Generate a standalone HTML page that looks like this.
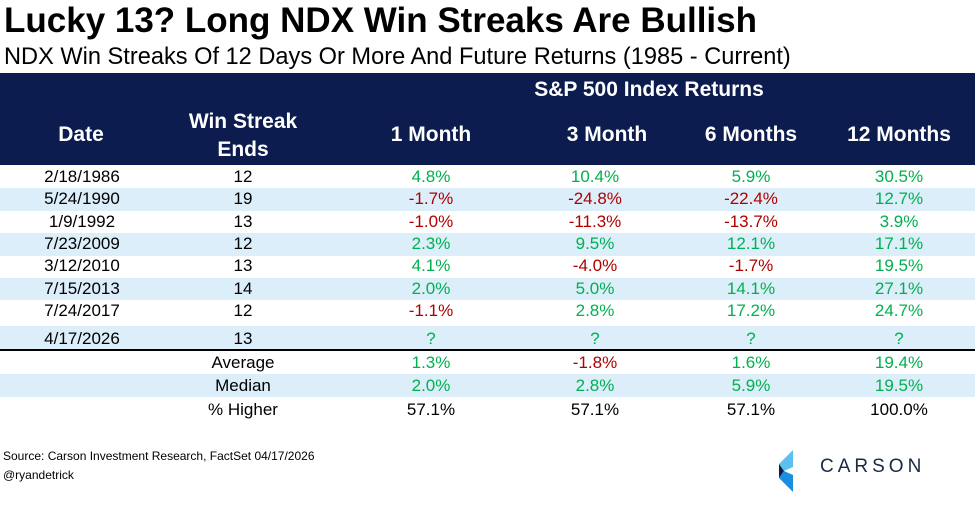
<!DOCTYPE html>
<html><head><style>
body{margin:0;width:975px;height:506px;background:#fff;font-family:"Liberation Sans",sans-serif;position:relative;overflow:hidden}
.a{position:absolute;white-space:nowrap}
.c{position:absolute;transform:translateX(-50%);white-space:nowrap;font-size:17px}
.h{color:#fff;font-weight:bold;font-size:21px}
.g{color:#00b050}.r{color:#b00000}
.band{position:absolute;left:0;width:975px;background:#dbeefa}
</style></head><body>
<div class="a" style="left:4px;top:1px;font-size:35px;font-weight:bold;color:#000">Lucky 13? Long NDX Win Streaks Are Bullish</div>
<div class="a" style="left:4px;top:44px;font-size:23.6px;color:#000">NDX Win Streaks Of 12 Days Or More And Future Returns (1985 - Current)</div>
<div class="a" style="left:0;top:73px;width:975px;height:92px;background:#0c1c4e"></div>
<div class="c h" style="left:649px;top:78px">S&amp;P 500 Index Returns</div>
<div class="c h" style="left:81px;top:123px">Date</div>
<div class="c h" style="left:243px;top:108px;text-align:center;line-height:28px">Win Streak<br>Ends</div>
<div class="c h" style="left:431px;top:123px">1 Month</div>
<div class="c h" style="left:607px;top:123px">3 Month</div>
<div class="c h" style="left:751px;top:123px">6 Months</div>
<div class="c h" style="left:899px;top:123px">12 Months</div>
<div class="band" style="top:188px;height:23px"></div>
<div class="band" style="top:233px;height:23px"></div>
<div class="band" style="top:278px;height:22px"></div>
<div class="band" style="top:326px;height:23px"></div>
<div class="band" style="top:374px;height:23px"></div>
<div class="a" style="left:0;top:349px;width:975px;height:2px;background:#000"></div>
<div id="rows"></div>
<div class="a" style="left:3px;top:449px;font-size:12px">Source: Carson Investment Research, FactSet 04/17/2026</div>
<div class="a" style="left:3px;top:468px;font-size:12px">@ryandetrick</div>
<svg class="a" style="left:779px;top:450px" width="28" height="42" viewBox="0 0 28 42"><polygon points="0,14 14,0 14,17 5,21" fill="#5bc0f0"/><polygon points="0,14 5,21 0,28" fill="#0c1c4e"/><polygon points="0,28 5,21 14,25 14,42" fill="#1a8fe0"/></svg>
<div class="a" style="left:820px;top:456px;font-size:19px;letter-spacing:4px;color:#1a2a44">CARSON</div>
<script>
var d=[["2/18/1986","12","4.8%","10.4%","5.9%","30.5%",177],["5/24/1990","19","-1.7%","-24.8%","-22.4%","12.7%",199],["1/9/1992","13","-1.0%","-11.3%","-13.7%","3.9%",222],["7/23/2009","12","2.3%","9.5%","12.1%","17.1%",244],["3/12/2010","13","4.1%","-4.0%","-1.7%","19.5%",266],["7/15/2013","14","2.0%","5.0%","14.1%","27.1%",289],["7/24/2017","12","-1.1%","2.8%","17.2%","24.7%",311],["4/17/2026","13","?","?","?","?",339],["","Average","1.3%","-1.8%","1.6%","19.4%",363],["","Median","2.0%","2.8%","5.9%","19.5%",386],["","% Higher","57.1%","57.1%","57.1%","100.0%",410]];
var xs=[82,243,431,595,751,899],h="";
d.forEach(function(r,i){for(var j=0;j<6;j++){var cl="";if(j>1){cl=i==10?"":(r[j][0]=="-"?"r":"g");}
h+='<div class="c '+cl+'" style="left:'+xs[j]+'px;top:'+(r[6]-10)+'px">'+r[j]+'</div>';}});
document.getElementById("rows").innerHTML=h;
</script>
</body></html>
